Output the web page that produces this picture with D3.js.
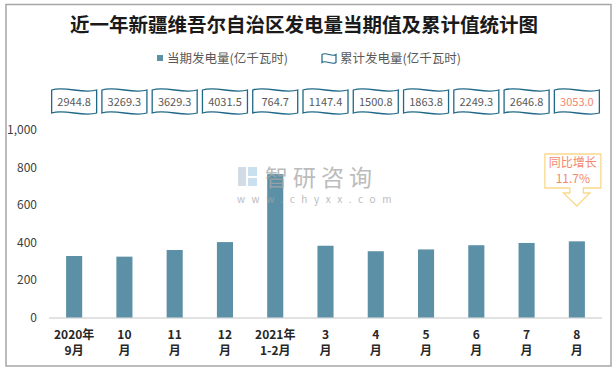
<!DOCTYPE html>
<html>
<head>
<meta charset="utf-8">
<script src="https://cdn.jsdelivr.net/npm/d3@7"></script>
<style>
  body { margin: 0; background: #fff; }
  svg { font-family: "Noto Sans CJK SC", "Microsoft YaHei", sans-serif; }
</style>
</head>
<body>
<svg width="615" height="370"></svg>
<script>
// data
const categories = ["2020年\n9月", "10\n月", "11\n月", "12\n月", "2021年\n1-2月", "3\n月", "4\n月", "5\n月", "6\n月", "7\n月", "8\n月"];
const monthly = [328, 324.5, 360, 402.2, 764.7, 382.7, 353.4, 363, 385.5, 397.5, 406.2];
const cumulative = ["2944.8", "3269.3", "3629.3", "4031.5", "764.7", "1147.4", "1500.8", "1863.8", "2249.3", "2646.8", "3053.0"];
const yTicks = [0, 200, 400, 600, 800, 1000];
const growthLabel = ["同比增长", "11.7%"];

const svg = d3.select("svg"),
      width = +svg.attr("width"),
      height = +svg.attr("height");

// outer frame
svg.append("rect")
  .attr("x", 6).attr("y", 4.5)
  .attr("width", 605).attr("height", 361.5)
  .attr("fill", "#fff")
  .attr("stroke", "#a6a6a6")
  .attr("stroke-width", 1.5);

// title
svg.append("text")
  .attr("x", 304).attr("y", 32)
  .attr("text-anchor", "middle")
  .attr("font-size", 19.5)
  .attr("font-weight", "bold")
  .attr("fill", "#1a1a1a")
  .text("近一年新疆维吾尔自治区发电量当期值及累计值统计图");

// wave shape helper (punched tape style)
function wave(x0, y0, w, h, a) {
  const x1 = x0 + w, y1 = y0 + h;
  return `M${x0},${y0}` +
    `C${x0 + w * 0.3},${y0 - 2 * a} ${x0 + w * 0.7},${y0 + 2 * a} ${x1},${y0}` +
    `L${x1},${y1}` +
    `C${x0 + w * 0.7},${y1 + 2 * a} ${x0 + w * 0.3},${y1 - 2 * a} ${x0},${y1}Z`;
}

// legend
const lg = svg.append("g").attr("font-size", 12.5).attr("fill", "#595959");
lg.append("rect").attr("x", 157).attr("y", 55).attr("width", 6).attr("height", 6).attr("fill", "#5c90a7");
lg.append("text").attr("x", 167).attr("y", 62.5).text("当期发电量(亿千瓦时)");
lg.append("path").attr("d", wave(322, 54.5, 14, 8, 1.5))
  .attr("fill", "#fff").attr("stroke", "#1f6888").attr("stroke-width", 1.2);
lg.append("text").attr("x", 340).attr("y", 62.5).text("累计发电量(亿千瓦时)");

// scales
const x = d3.scaleBand()
  .domain(categories)
  .range([49, 602])
  .paddingInner(0.68)
  .paddingOuter(0.34);

const y = d3.scaleLinear()
  .domain([0, 1000])
  .range([317.5, 130]);

// y axis labels
const yAxis = svg.append("g")
  .attr("transform", "translate(37,0)")
  .call(d3.axisLeft(y).tickValues(yTicks).tickFormat(d3.format(",")).tickSize(0).tickPadding(0));
yAxis.select(".domain").remove();
yAxis.selectAll("text")
  .attr("font-size", 12)
  .attr("fill", "#404040")
  .attr("font-family", "Noto Sans CJK SC, sans-serif");

// x axis line
svg.append("line")
  .attr("x1", 49).attr("x2", 602)
  .attr("y1", 318).attr("y2", 318)
  .attr("stroke", "#d9d9d9").attr("stroke-width", 1.5);

// bars
svg.append("g").selectAll("rect")
  .data(monthly)
  .join("rect")
  .attr("x", (d, i) => x(categories[i]))
  .attr("y", d => y(d))
  .attr("width", x.bandwidth())
  .attr("height", d => y(0) - y(d))
  .attr("fill", "#5c90a7");

// x labels
const xl = svg.append("g")
  .attr("font-size", 12)
  .attr("font-weight", "bold")
  .attr("fill", "#262626")
  .attr("text-anchor", "middle");
categories.forEach(c => {
  const cx = x(c) + x.bandwidth() / 2;
  const t = xl.append("text");
  c.split("\n").forEach((line, j) => {
    t.append("tspan").attr("x", cx).attr("y", 339 + j * 16).text(line);
  });
});

// cumulative boxes
const boxes = svg.append("g");
cumulative.forEach((v, i) => {
  const cx = x(categories[i]) + x.bandwidth() / 2;
  boxes.append("path")
    .attr("d", wave(cx - 22.5, 90, 45, 23, 2.2))
    .attr("fill", "#fff")
    .attr("stroke", "#1f6888")
    .attr("stroke-width", 1.3);
  boxes.append("text")
    .attr("x", cx).attr("y", 105.5)
    .attr("text-anchor", "middle")
    .attr("font-size", 11)
    .attr("fill", i === cumulative.length - 1 ? "#f4876e" : "#595959")
    .text(v);
});

// watermark
const wm = svg.append("g").attr("opacity", 0.75);
wm.append("rect").attr("x", 238).attr("y", 167).attr("width", 8).attr("height", 19).attr("fill", "#c5cfe0");
wm.append("rect").attr("x", 248).attr("y", 167).attr("width", 9).attr("height", 9).attr("fill", "#b9d6ea");
wm.append("rect").attr("x", 248).attr("y", 178).attr("width", 9).attr("height", 8).attr("fill", "#b9d6ea");
wm.append("text")
  .attr("x", 265).attr("y", 186)
  .attr("font-size", 23)
  .attr("fill", "#a6a6a6")
  .attr("letter-spacing", 5)
  .text("智研咨询");
wm.append("text")
  .attr("x", 237).attr("y", 203)
  .attr("font-size", 10)
  .attr("fill", "#a6a6a6")
  .attr("letter-spacing", 6.6)
  .text("www.chyxx.com");

// growth callout
const last = categories[categories.length - 1];
const ax = x(last) + x.bandwidth() / 2;
const ca = svg.append("g");
ca.append("path")
  .attr("d", `M${ax - 32},154 H${ax + 24} V188 H${ax + 6.5} V193 H${ax + 13} L${ax},206 L${ax - 13.5},193 H${ax - 7} V188 H${ax - 32} Z`)
  .attr("fill", "#fff")
  .attr("stroke", "#f9d98c")
  .attr("stroke-width", 1.3);
growthLabel.forEach((t, j) => {
  ca.append("text")
    .attr("x", ax - 4).attr("y", 167 + j * 16)
    .attr("text-anchor", "middle")
    .attr("font-size", 12)
    .attr("fill", "#f4876e")
    .text(t);
});
</script>
</body>
</html>
